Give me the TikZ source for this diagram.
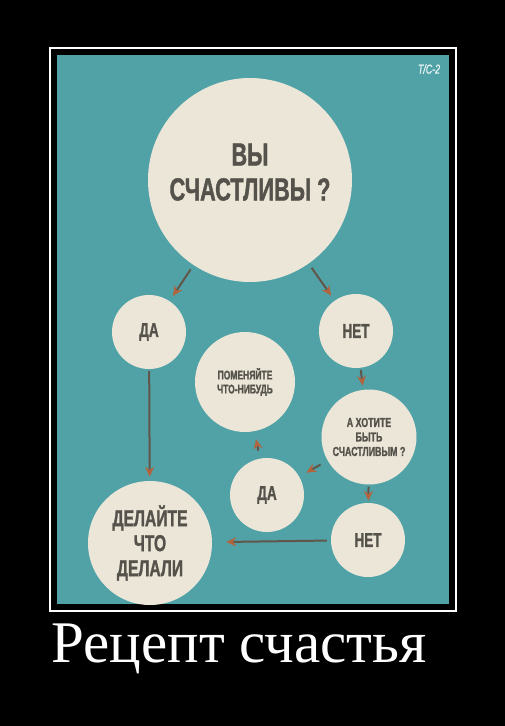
\documentclass[tikz,border=0pt]{standalone}
\usepackage{fontspec}
\setmainfont{Liberation Serif}
\newfontfamily\poster[FakeStretch=0.68, FakeBold=1.2]{Liberation Sans}
\usetikzlibrary{arrows.meta}
\definecolor{teal bg}{RGB}{80,162,167}
\definecolor{cream}{RGB}{236,230,216}
\definecolor{ink}{RGB}{84,82,74}
\definecolor{stem}{RGB}{98,86,74}
\definecolor{rust}{RGB}{178,100,62}
\tikzset{
  bubble/.style = {circle, fill = cream, text = ink, align = center, inner sep = 0},
  pointer/.style = {stem, line width = 2, -{Stealth[length = 10, width = 9, color = rust]}},
}
\begin{document}
\begin{tikzpicture}[x = 1pt, y = -1pt]
                \useasboundingbox [fill = black] (0, 0) rectangle (505, 726);
                \draw [white, line width = 2] (50, 48) rectangle (456, 611);
                \fill [teal bg] (57, 55) rectangle (449, 604);
                \node [white, opacity = 0.8, font = {\poster\itshape\fontsize{13}{13}\selectfont}] (tag) at (429, 69) {Т/С-2};
                \node [bubble, minimum size = 204, text depth = 16, font = {\poster\bfseries\fontsize{32}{35}\selectfont}] (happy) at (250, 180) {ВЫ\\СЧАСТЛИВЫ ?};
                \node [bubble, minimum size = 74, font = {\poster\bfseries\fontsize{20}{20}\selectfont}] (yes) at (149, 332) {ДА};
                \node [bubble, minimum size = 74, font = {\poster\bfseries\fontsize{20}{20}\selectfont}] (no) at (356, 331) {НЕТ};
                \node [bubble, minimum size = 100, font = {\poster\bfseries\fontsize{12.5}{14}\selectfont}] (change) at (245, 382) {ПОМЕНЯЙТЕ\\ЧТО-НИБУДЬ};
                \node [bubble, minimum size = 95, font = {\poster\bfseries\fontsize{13}{14.5}\selectfont}] (want) at (369, 437) {А ХОТИТЕ\\БЫТЬ\\СЧАСТЛИВЫМ ?};
                \node [bubble, minimum size = 74, font = {\poster\bfseries\fontsize{20}{20}\selectfont}] (yes2) at (267, 495) {ДА};
                \node [bubble, minimum size = 74, font = {\poster\bfseries\fontsize{20}{20}\selectfont}] (no2) at (368, 540) {НЕТ};
                \node [bubble, minimum size = 124, font = {\poster\bfseries\fontsize{23}{25}\selectfont}] (keep) at (150, 543) {ДЕЛАЙТЕ\\ЧТО\\ДЕЛАЛИ};
                \draw [pointer, shorten < = 5, shorten > = 6] (happy) -- (yes);
                \draw [pointer, shorten < = 5, shorten > = 6] (happy) -- (no);
                \draw [pointer, shorten < = 2, shorten > = 4] (yes) -- (keep);
                \draw [pointer, shorten < = 2, shorten > = 4] (no) -- (want);
                \draw [pointer, shorten < = 8, shorten > = 8] (want) -- (yes2);
                \draw [pointer, shorten < = 8, shorten > = 8] (yes2) -- (change);
                \draw [pointer, shorten < = 2, shorten > = 2] (want) -- (no2);
                \draw [pointer, shorten < = 4, shorten > = 14] (no2) -- (keep);
                \node [white, anchor = base west, font = {\fontsize{59}{59}\selectfont}] (caption) at (48, 662) {Рецепт счастья};
            \end{tikzpicture}
\end{document}
